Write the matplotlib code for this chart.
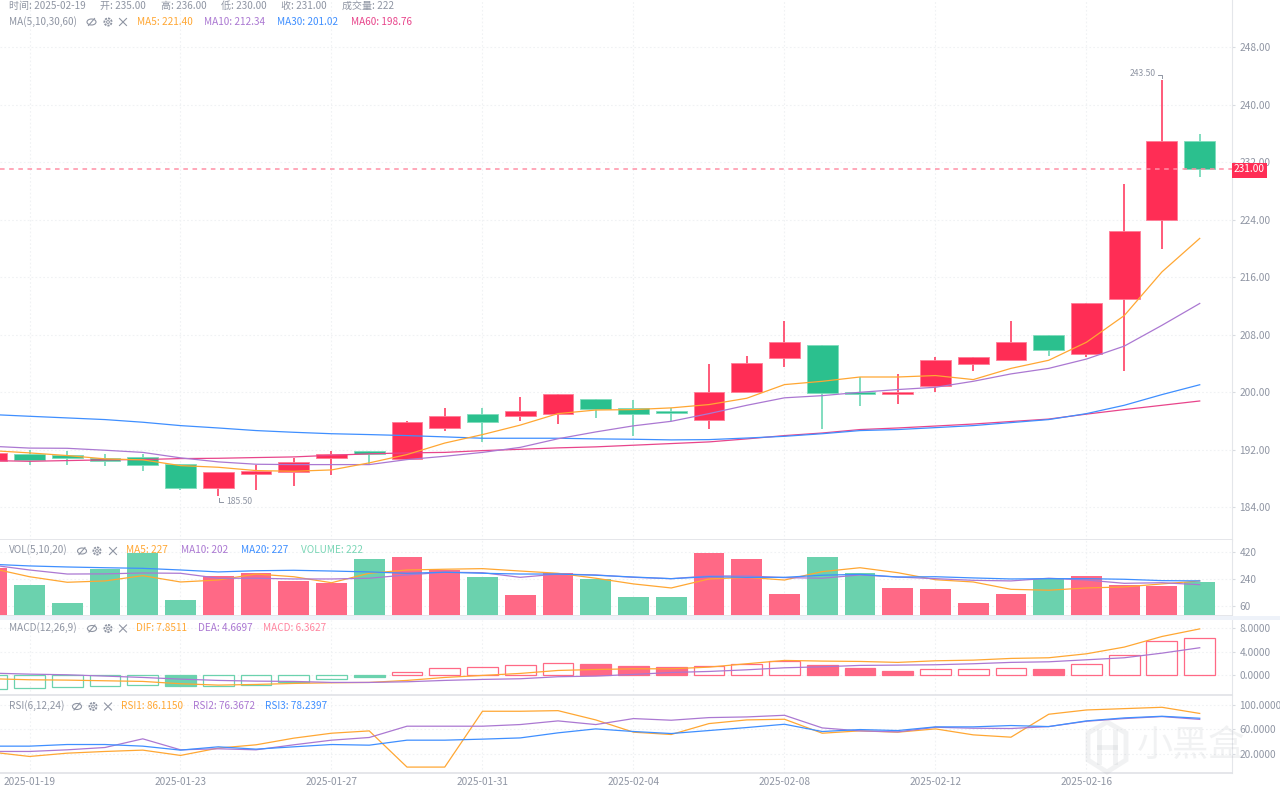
import numpy as np
import matplotlib
matplotlib.use('Agg')
import matplotlib.pyplot as plt
from matplotlib.patches import Rectangle, Ellipse, Circle, Polygon

plt.rcParams['font.family'] = ['Noto Sans CJK SC', 'DejaVu Sans']

dates = ['01-18', '01-19', '01-20', '01-21', '01-22', '01-23', '01-24', '01-25', '01-26', '01-27', '01-28',
         '01-29', '01-30', '01-31', '02-01', '02-02', '02-03', '02-04', '02-05', '02-06', '02-07', '02-08',
         '02-09', '02-10', '02-11', '02-12', '02-13', '02-14', '02-15', '02-16', '02-17', '02-18', '02-19']

opens = [190.4, 191.4, 191.25, 190.85, 190.9, 189.95, 186.6, 188.65, 188.9, 190.75, 191.75,
         190.7, 195.0, 196.95, 196.7, 196.9, 199.0, 197.8, 197.4, 196.1, 200.0, 204.7,
         206.5, 200.0, 199.75, 200.8, 203.9, 204.4, 207.9, 205.35, 212.9, 223.9, 235.0]
closes = [191.5, 190.6, 190.85, 190.4, 189.85, 186.6, 188.8, 189.0, 190.3, 191.35, 191.35,
          195.8, 196.6, 195.8, 197.4, 199.75, 197.7, 196.9, 197.1, 200.05, 204.0, 206.95,
          199.9, 199.75, 200.0, 204.5, 204.9, 207.0, 205.9, 212.4, 222.45, 235.0, 231.0]
highs = [191.6, 192.0, 191.75, 191.4, 191.4, 189.95, 188.8, 189.9, 190.75, 191.75, 191.75,
         195.95, 197.8, 197.8, 199.3, 199.8, 199.0, 198.95, 197.8, 203.9, 205.0, 209.95,
         206.5, 202.05, 202.45, 204.85, 204.9, 209.95, 207.9, 212.4, 229.0, 243.5, 236.0]
lows = [190.3, 189.9, 189.9, 189.7, 189.0, 186.3, 185.5, 186.3, 186.9, 188.4, 189.9,
        190.6, 194.55, 193.0, 195.95, 195.5, 196.4, 193.95, 195.95, 194.9, 200.0, 203.45,
        194.9, 198.0, 198.35, 199.95, 202.9, 204.4, 205.0, 204.85, 202.9, 219.95, 230.0]

ma5 = [191.85, 191.53, 191.16, 190.7, 190.56, 189.76, 189.53, 189.07, 188.97, 189.16, 190.14,
       191.3, 192.9, 194.08, 195.4, 197.0, 197.5, 197.56, 197.8, 198.26, 199.14, 201.04,
       201.5, 202.1, 202.1, 202.3, 201.74, 203.3, 204.43, 206.94, 210.65, 216.74, 221.4]
ma10 = [192.45, 192.2, 192.17, 191.9, 191.6, 190.84, 190.28, 189.95, 189.9, 189.9, 189.9,
        190.6, 191.06, 191.6, 192.3, 193.5, 194.45, 195.3, 195.93, 197.0, 198.16, 199.2,
        199.5, 199.97, 200.35, 200.67, 201.5, 202.53, 203.3, 204.6, 206.4, 209.3, 212.34]
ma30 = [196.87, 196.63, 196.4, 196.17, 195.8, 195.33, 195.0, 194.64, 194.4, 194.2, 194.08,
        193.94, 193.76, 193.57, 193.57, 193.57, 193.48, 193.43, 193.34, 193.38, 193.6, 193.84,
        194.2, 194.64, 194.78, 195.05, 195.33, 195.75, 196.17, 197.0, 198.16, 199.65, 201.02]
ma60 = [190.46, 190.36, 190.46, 190.56, 190.6, 190.74, 190.78, 190.88, 190.97, 191.2, 191.4,
        191.53, 191.6, 191.85, 192.03, 192.23, 192.37, 192.6, 192.83, 193.06, 193.48, 193.94,
        194.3, 194.78, 195.0, 195.27, 195.55, 195.9, 196.24, 196.93, 197.56, 198.16, 198.76]

volume = [315, 200, 82, 305, 415, 98, 258, 282, 227, 211, 373,
          389, 300, 251, 133, 282, 240, 118, 118, 411, 371, 138,
          389, 278, 180, 175, 82, 138, 240, 260, 198, 191, 222]
vol_ma5 = [311, 255, 218, 227, 262, 220, 233, 273, 255, 215, 278,
           300, 305, 309, 293, 278, 245, 207, 180, 240, 251, 233,
           289, 315, 282, 235, 220, 171, 165, 180, 187, 207, 227]
vol_ma10 = [333, 300, 273, 274, 280, 278, 245, 245, 240, 240, 245,
            267, 285, 282, 251, 273, 267, 251, 242, 260, 260, 249,
            245, 267, 253, 242, 231, 227, 245, 233, 211, 215, 202]
vol_ma20 = [338, 327, 320, 315, 311, 300, 287, 295, 298, 293, 287,
            278, 285, 278, 273, 273, 265, 253, 242, 255, 251, 251,
            265, 271, 253, 255, 247, 240, 242, 242, 238, 229, 227]

macd = [-2.25, -2.14, -2.02, -1.74, -1.69, -1.85, -1.74, -1.57, -1.12, -0.62, -0.28,
        0.56, 1.18, 1.4, 1.69, 2.08, 1.91, 1.63, 1.4, 1.57, 1.91, 2.47,
        1.74, 1.24, 0.73, 1.07, 1.07, 1.29, 1.12, 1.85, 3.37, 5.73, 6.3627]
macd_filled = [0, 0, 0, 0, 0, 1, 0, 0, 0, 0, 1,
               0, 0, 0, 0, 0, 1, 1, 1, 0, 0, 0,
               1, 1, 1, 0, 0, 0, 1, 0, 0, 0, 0]
dif = [-0.56, -0.73, -0.79, -0.9, -1.01, -1.4, -1.63, -1.52, -1.35, -1.24, -1.18,
       -0.84, -0.34, 0.0, 0.34, 0.84, 1.0, 1.12, 1.12, 1.4, 1.97, 2.53,
       2.42, 2.36, 2.2, 2.47, 2.58, 2.87, 2.98, 3.65, 4.78, 6.57, 7.8511]
dea = [0.39, 0.22, 0.11, -0.11, -0.34, -0.62, -0.84, -0.96, -1.01, -1.18, -1.18,
       -1.07, -0.84, -0.67, -0.56, -0.22, -0.11, 0.17, 0.5, 0.67, 0.95, 1.29,
       1.46, 1.69, 1.74, 1.8, 1.97, 2.2, 2.3, 2.64, 2.98, 3.76, 4.6697]

rsi1 = [22.7, 15.6, 21.0, 23.8, 26.0, 17.3, 29.3, 34.7, 45.6, 53.7, 57.5,
        -1.8, -1.8, 89.7, 89.7, 90.7, 75.5, 55.4, 51.6, 69.5, 75.5, 76.6,
        53.7, 57.6, 55.4, 60.8, 51.0, 47.2, 84.8, 91.8, 94.0, 96.2, 86.115]
rsi2 = [23.8, 23.8, 26.5, 30.3, 44.5, 26.5, 28.2, 26.5, 34.7, 42.3, 46.7,
        65.2, 65.2, 65.2, 67.9, 73.9, 67.9, 77.7, 75.0, 79.3, 80.4, 83.1,
        62.4, 57.5, 55.9, 63.5, 61.9, 61.4, 64.6, 73.3, 77.7, 81.0, 76.3672]
rsi3 = [32.5, 32.5, 35.2, 35.2, 32.5, 26.0, 31.4, 27.6, 31.4, 35.2, 34.1,
        42.3, 42.3, 44.0, 46.0, 54.3, 60.8, 56.5, 53.2, 58.1, 63.0, 68.4,
        56.5, 59.7, 58.1, 64.1, 64.1, 66.3, 64.6, 73.9, 78.8, 81.5, 78.2397]

price_ticks = [184, 192, 200, 208, 216, 224, 232, 240, 248]
vol_ticks = [60, 240, 420]
macd_ticks = [0, 4, 8]
rsi_ticks = [20, 60, 100]
date_ticks = ['01-19', '01-23', '01-27', '01-31', '02-04', '02-08', '02-12', '02-16']

RED = '#ff2d55'
GREEN = '#2bc08e'
RED2 = '#ff6986'
GREEN2 = '#6bd2ae'
ORANGE = '#ffa733'
PURPLE = '#ab78d2'
BLUE = '#3f8fff'
PINK = '#e8458b'
GREY = '#8f95a3'
GRID = '#f0f2f4'
W, H = 1280, 791
FS = 7.2

x = np.arange(len(dates))
up = np.array(closes) >= np.array(opens)

fig = plt.figure(figsize=(12.8, 7.91), dpi=100, facecolor='white')


def panel(top, bottom, ylim, ticks, fmt):
    ax = fig.add_axes([0, 1 - bottom / H, 1232 / W, (bottom - top) / H])
    ax.set_xlim(0.2185, 32.855)
    ax.set_ylim(*ylim)
    ax.yaxis.tick_right()
    ax.set_yticks(ticks)
    ax.set_yticklabels([fmt % t for t in ticks], fontsize=7.3, color=GREY)
    ax.set_xticks([dates.index(d) for d in date_ticks])
    ax.tick_params(axis='y', length=2, width=0.8, color='#d8dbe0', pad=3.5)
    ax.tick_params(axis='x', length=0, labelbottom=False)
    ax.grid(True, color=GRID, lw=0.8, ls=(0, (1.5, 2)))
    ax.set_axisbelow(True)
    for s in ax.spines.values():
        s.set_visible(False)
    ax.spines['right'].set_visible(True)
    ax.spines['right'].set_color('#e4e6ea')
    ax.spines['bottom'].set_visible(True)
    ax.spines['bottom'].set_color('#e0e2e6')
    ax.spines['bottom'].set_linewidth(1.2)
    return ax


ax1 = panel(0, 540, (179.4, 254.6), price_ticks, '%.2f')
ax2 = panel(540, 616, (-7, 500), vol_ticks, '%d')
ax3 = panel(620, 695, (-3.3, 9.35), macd_ticks, '%.4f')
ax4 = panel(696, 773, (-11.5, 114.7), rsi_ticks, '%.4f')

# candles
wick_cols = [RED if u else '#5fd3ad' for u in up]
ax1.vlines(x, lows, highs, colors=wick_cols, lw=1.1, zorder=2)
bottoms = np.minimum(opens, closes)
heights = np.abs(np.array(closes) - np.array(opens))
ax1.bar(x, heights, 0.82, bottoms, color=[RED if u else GREEN for u in up], zorder=3,
        edgecolor=['#ff7d96' if u else '#7fdcbc' for u in up], lw=0.6)
ax1.plot(x, ma60, color=PINK, lw=0.9, zorder=4)
ax1.plot(x, ma30, color=BLUE, lw=0.9, zorder=4)
ax1.plot(x, ma10, color=PURPLE, lw=0.9, zorder=4)
ax1.plot(x, ma5, color=ORANGE, lw=0.9, zorder=4)
ax1.axhline(closes[-1], color='#ff8fa6', lw=1.1, ls=(0, (3, 3)), zorder=5)

# volume
ax2.bar(x, volume, 0.82, color=[RED2 if u else GREEN2 for u in up], zorder=2)
ax2.plot(x, vol_ma5, color=ORANGE, lw=0.9, zorder=3)
ax2.plot(x, vol_ma10, color=PURPLE, lw=0.9, zorder=3)
ax2.plot(x, vol_ma20, color=BLUE, lw=0.9, zorder=3)

# macd
for i in range(len(macd)):
    col = RED2 if macd[i] > 0 else GREEN2
    ax3.bar(x[i], macd[i], 0.82, facecolor=col if macd_filled[i] else 'none', edgecolor=col, lw=0.9, zorder=2)
ax3.plot(x, dif, color=ORANGE, lw=0.9, zorder=3)
ax3.plot(x, dea, color=PURPLE, lw=0.9, zorder=3)

# rsi
ax4.plot(x, rsi1, color=ORANGE, lw=0.9, zorder=3)
ax4.plot(x, rsi2, color=PURPLE, lw=0.9, zorder=3)
ax4.plot(x, rsi3, color=BLUE, lw=0.9, zorder=3)
ax4.set_xticklabels(['2025-' + d for d in date_ticks], fontsize=7.3, color=GREY)
ax4.tick_params(axis='x', labelbottom=True, pad=3, length=0)

# overlay in pixel coords for the header rows and labels
ov = fig.add_axes([0, 0, 1, 1], facecolor='none')
ov.set_xlim(0, W)
ov.set_ylim(H, 0)
ov.axis('off')
ov.add_patch(Rectangle((0, 616), 1280, 4, color='#eef2f9', lw=0))
ov.add_patch(Rectangle((1232, 163), 35, 15, color=RED, lw=0))
ov.text(1249.5, 169.5, '%.2f' % closes[-1], color='white', fontsize=7.3, ha='center', va='center')


def label(px, py, s, col=GREY, size=FS):
    ov.text(px, py, s, color=col, fontsize=size, ha='left', va='center')


def icons(ex, gx, xx, py):
    c = '#8f95a3'
    ov.add_patch(Ellipse((ex, py), 9, 6, fill=False, ec=c, lw=0.8))
    ov.plot([ex - 3, ex + 3], [py + 3.5, py - 3.5], color=c, lw=0.8)
    ov.add_patch(Circle((gx, py), 3.6, fill=False, ec=c, lw=1.3, ls=(0, (1.2, 0.6))))
    ov.add_patch(Circle((gx, py), 1.4, fill=False, ec=c, lw=0.7))
    ov.plot([xx - 3.5, xx + 3.5], [py - 3.5, py + 3.5], color=c, lw=0.8)
    ov.plot([xx - 3.5, xx + 3.5], [py + 3.5, py - 3.5], color=c, lw=0.8)


for px, s in [(9, '时间: 2025-02-19'), (100, '开: 235.00'), (161, '高: 236.00'),
              (221, '低: 230.00'), (281, '收: 231.00'), (342, '成交量: 222')]:
    label(px, 6, s)

label(9, 22, 'MA(5,10,30,60)')
icons(91.5, 108, 123, 22)
label(137, 22, 'MA5: 221.40', ORANGE)
label(204, 22, 'MA10: 212.34', PURPLE)
label(277, 22, 'MA30: 201.02', BLUE)
label(351, 22, 'MA60: 198.76', PINK)

label(9, 550, 'VOL(5,10,20)')
icons(82, 97, 113, 551)
label(126, 550, 'MA5: 227', ORANGE)
label(181, 550, 'MA10: 202', PURPLE)
label(241, 550, 'MA20: 227', BLUE)
label(301, 550, 'VOLUME: 222', '#7ad6b6')

label(9, 628, 'MACD(12,26,9)')
icons(92, 108, 123, 628.5)
label(136, 628, 'DIF: 7.8511', ORANGE)
label(198, 628, 'DEA: 4.6697', PURPLE)
label(263, 628, 'MACD: 6.3627', '#ff86a0')

label(9, 706, 'RSI(6,12,24)')
icons(77, 93, 108, 706.5)
label(121, 706, 'RSI1: 86.1150', ORANGE)
label(193, 706, 'RSI2: 76.3672', PURPLE)
label(265, 706, 'RSI3: 78.2397', BLUE)

# highest / lowest marks
label(1130, 74, '243.50', size=6.2)
ov.plot([1158, 1162, 1162], [75, 75, 78], color=GREY, lw=0.7)
label(226, 501.5, '185.50', size=6.2)
ov.plot([219, 219, 223], [498, 501.5, 501.5], color=GREY, lw=0.7)

# watermark
ov.text(1191, 746, '小黑盒', color='#9aa0a8', alpha=0.13, fontsize=26, ha='center', va='center')
ov.add_patch(Polygon([[1107, 722], [1126, 733], [1126, 760], [1107, 772], [1088, 760], [1088, 733]],
                     fill=False, ec='#9aa0a8', alpha=0.13, lw=3.5))
ov.plot([1099, 1099], [732, 762], color='#9aa0a8', alpha=0.13, lw=3.5)
ov.plot([1115, 1115], [732, 762], color='#9aa0a8', alpha=0.13, lw=3.5)
ov.plot([1099, 1115], [747, 747], color='#9aa0a8', alpha=0.13, lw=3.5)

fig.savefig('out.png', dpi=100)
